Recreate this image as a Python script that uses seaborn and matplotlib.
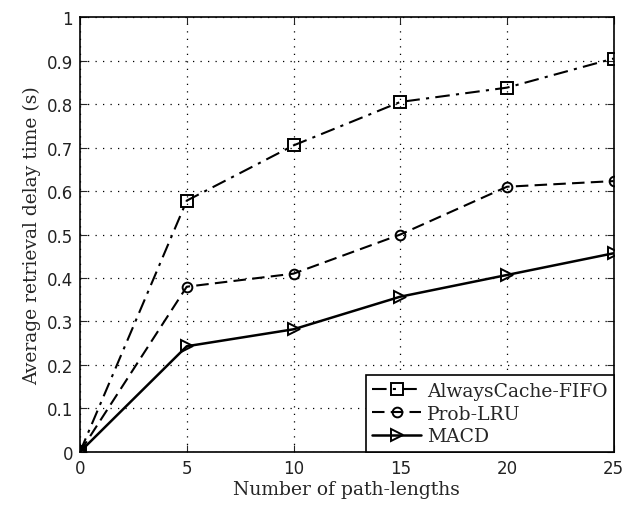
import pandas as pd
import seaborn as sns
import matplotlib.pyplot as plt

path_lengths = [0, 5, 10, 15, 20, 25]
fifo = [0, 0.578, 0.705, 0.805, 0.838, 0.905]
lru = [0, 0.38, 0.41, 0.50, 0.61, 0.623]
macd = [0, 0.243, 0.282, 0.357, 0.407, 0.457]
names = ["AlwaysCache-FIFO", "Prob-LRU", "MACD"]

sns.set_style("ticks")
plt.rcParams['font.family'] = ['DejaVu Serif']

fig = plt.figure(figsize=(6.25, 5.06), dpi=100)
ax = fig.add_axes([0.128, 0.105, 0.854, 0.859])

styles = [
    dict(marker='s', linestyle=(0, (7, 3, 1.5, 3)), markersize=9, linewidth=1.5),
    dict(marker='o', linestyle=(0, (6, 3)), markersize=7, linewidth=1.5),
    dict(marker='>', linestyle='-', markersize=9, linewidth=1.8),
]
for name, vals, st in zip(names, [fifo, lru, macd], styles):
    df = pd.DataFrame({'x': path_lengths, 'y': vals})
    sns.lineplot(data=df, x='x', y='y', ax=ax, color='black', label=name,
                 markerfacecolor='none', markeredgecolor='black',
                 markeredgewidth=1.4, **st)

ax.set_xlim(0, 25)
ax.set_ylim(0, 1)
ax.set_xticks([0, 5, 10, 15, 20, 25])
ax.set_yticks([i / 10 for i in range(11)])
ax.set_yticklabels(['0', '0.1', '0.2', '0.3', '0.4', '0.5', '0.6', '0.7', '0.8', '0.9', '1'])
ax.grid(True, linestyle=(0, (1, 5)), color='black', linewidth=0.9)
ax.tick_params(direction='in', length=5, top=True, right=True, pad=5)
for lab in ax.get_xticklabels() + ax.get_yticklabels():
    lab.set_family('DejaVu Sans')
    lab.set_fontsize(12)
    lab.set_color('#222222')
for s in ax.spines.values():
    s.set_color('black')
    s.set_linewidth(1.2)
ax.set_xlabel('Number of path-lengths', fontsize=13.5, labelpad=2)
ax.set_ylabel('Average retrieval delay time (s)', fontsize=13.5, labelpad=4)

leg = ax.legend(loc='lower right', fontsize=13.5, frameon=True, fancybox=False,
                edgecolor='black', borderaxespad=0, handlelength=2.6,
                borderpad=0.35, labelspacing=0.25, handletextpad=0.3)
leg.get_frame().set_linewidth(1.2)
leg.get_frame().set_alpha(1)

fig.savefig('out.png', dpi=100)
